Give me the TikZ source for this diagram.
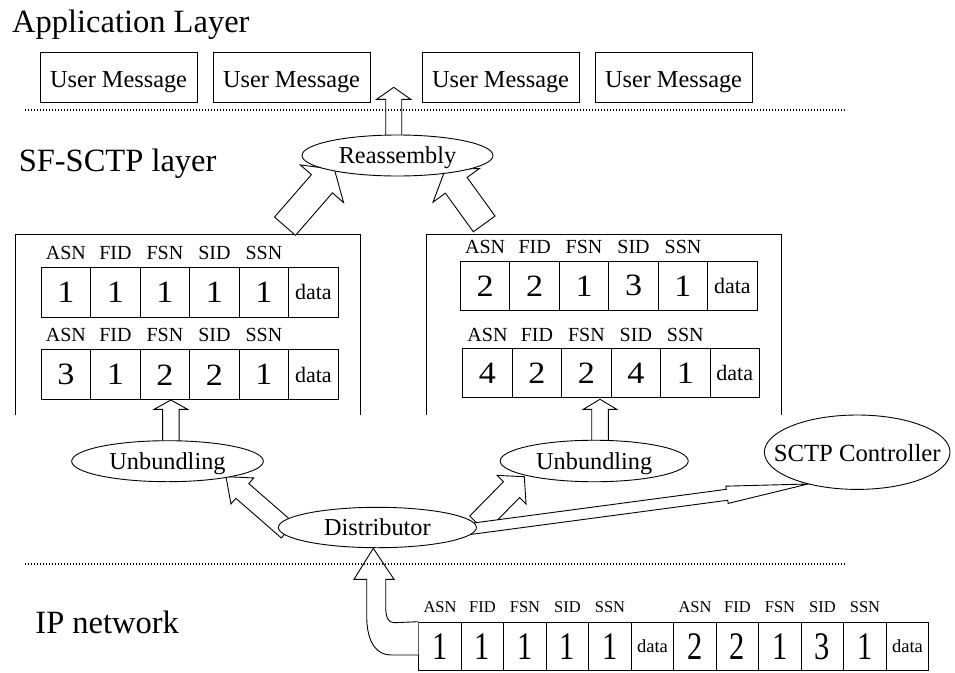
\documentclass[tikz,border=0pt]{standalone}
\usepackage{graphicx}
\usepackage{fontspec}
\setmainfont{Liberation Serif}
\usetikzlibrary{calc,shapes.geometric}
\newcommand\fs[1]{\fontsize{#1}{#1}\selectfont}
\newcommand\dA[1]{\scalebox{1.1}[1]{\fs{31}#1}}
\newcommand\dB[1]{\scalebox{0.78}[1]{\fs{39}#1}}
\newcommand\dtA{\fs{22}data}
\newcommand\dtB{\fs{18.5}data}
% packet row: name, x, y, cell width, cell height, contents
\newcommand\pktrow[6]{%
  \foreach \c [count=\i] in {#6} {%
    \node[cell, minimum width=#4pt, minimum height=#5pt] (#1-\i) at ({#2+(\i-1)*#4},#3) {\c};}}
% headers: name, first index, style, raise
\newcommand\hdrs[4]{%
  \foreach \h [count=\j from #2] in {ASN,FID,FSN,SID,SSN} {%
    \node[#3] (#1-h\j) at ([yshift=#4pt]#1-\j.north) {\h};}}
% block arrow: tail, tip, half shaft, half head, head length
\newcommand\barrow[5]{%
  \coordinate (ba-hb) at ($(#2)!#5pt!(#1)$);
  \draw[blk] ($(#1)!#3pt!90:(#2)$) -- ($(ba-hb)!#3pt!90:(#2)$) -- ($(ba-hb)!#4pt!90:(#2)$)
    -- (#2) -- ($(ba-hb)!#4pt!-90:(#2)$) -- ($(ba-hb)!#3pt!-90:(#2)$) -- ($(#1)!#3pt!-90:(#2)$) -- cycle;}
\tikzset{
  msg/.style={draw, minimum width=157pt, minimum height=49.3pt, inner sep=0pt,
    text height=20pt, text depth=0pt, font=\fs{24.3}},
  oval/.style={draw, ellipse, fill=white, inner sep=0pt},
  ovaltext/.style={font=\fs{24.3}, inner sep=0pt, anchor=base},
  cell/.style={draw, inner sep=0pt, anchor=north west},
  hdrA/.style={font=\fs{20}, inner sep=0pt, anchor=base},
  hdrB/.style={font=\fs{16.5}, inner sep=0pt, anchor=base},
  layer/.style={font=\fs{32.5}, inner sep=0pt, anchor=base west},
  sepline/.style={dash pattern=on 1.2pt off 1.8pt, line width=1.2pt},
  blk/.style={draw, fill=white, line join=miter},
}
\begin{document}
\begin{tikzpicture}[x=1pt, y=-1pt, line width=0.9pt]
\useasboundingbox (0,0) rectangle (955,672);

% layer labels
\node[layer] (appl) at (11.7,32.3) {Application Layer};
\node[layer] (sfl) at (18.3,171.7) {SF-SCTP layer};
\node[layer] (ipl) at (35,633.3) {IP network};

% user messages
\node[msg] (um1) at (118.5,77.4) {User Message};
\node[msg] (um2) at (291.5,77.4) {User Message};
\node[msg] (um3) at (500.5,77.4) {User Message};
\node[msg] (um4) at (673.5,77.4) {User Message};

% panels (open at the bottom)
\draw (15,415) -- (15,234) -- (360.7,234) -- (360.7,415);
\draw (426.7,415) -- (426.7,234) -- (781,234) -- (781,415);

% packets
\pktrow{pA}{40.7}{267.3}{49.5}{49.4}{\dA{1},\dA{1},\dA{1},\dA{1},\dA{1},\dtA}
\hdrs{pA}{1}{hdrA}{8}
\pktrow{pB}{40.7}{349.3}{49.5}{50}{\dA{3},\dA{1},\dA{2},\dA{2},\dA{1},\dtA}
\hdrs{pB}{1}{hdrA}{7.6}
\pktrow{pC}{460}{260.7}{49.45}{49.3}{\dA{2},\dA{2},\dA{1},\dA{3},\dA{1},\dtA}
\hdrs{pC}{1}{hdrA}{7.4}
\pktrow{pD}{462.3}{347.7}{49.45}{49.6}{\dA{4},\dA{2},\dA{2},\dA{4},\dA{1},\dtA}
\hdrs{pD}{1}{hdrA}{6.5}
\pktrow{pE}{418.3}{621.7}{42.5}{48.3}{\dB{1},\dB{1},\dB{1},\dB{1},\dB{1},\dtB,\dB{2},\dB{2},\dB{1},\dB{3},\dB{1},\dtB}
\hdrs{pE}{1}{hdrB}{9}
\hdrs{pE}{7}{hdrB}{9}

% arrow end points
\coordinate (raT) at (393.7,140);   \coordinate (raH) at (393.7,87.3);
\coordinate (rlT) at (285,226.2);   \coordinate (rlH) at (334.4,169.4);
\coordinate (rrT) at (484.2,223.9); \coordinate (rrH) at (445.1,169.9);
\coordinate (ulT) at (170.85,445);  \coordinate (ulH) at (170.85,400);
\coordinate (urT) at (600,445);     \coordinate (urH) at (600,399.3);
\coordinate (dlT) at (287.8,530.6); \coordinate (dlH) at (226,476.7);
\coordinate (drT) at (477.8,523.9); \coordinate (drH) at (524.3,476.7);
\coordinate (dsT) at (470,529);     \coordinate (dsH) at (808,484);
\coordinate (bentTip) at (373.3,548.3);

% block arrows
\barrow{raT}{raH}{8}{17}{12}
\barrow{rlT}{rlH}{13.9}{28.7}{19}
\barrow{rrT}{rrH}{13.4}{28.7}{19}
\barrow{ulT}{ulH}{8.2}{16.7}{9.3}
\barrow{urT}{urH}{8.3}{16.7}{10}
\barrow{dlT}{dlH}{9.8}{17.3}{21.7}
\barrow{drT}{drH}{11.3}{20.4}{18.2}
\barrow{dsT}{dsH}{5.5}{8.7}{81.7}

% bent arrow from the IP packet to the distributor
\draw[blk] (pE-1.west |- 0,655) -- (391,655) .. controls (377,655) and (366.7,643) .. (366.7,616)
  -- (366.7,579.3) -- (354,579.3) -- (bentTip) -- (394,579.3) -- (385.7,579.3)
  -- (385.7,606.7) .. controls (385.7,617) and (388,622.7) .. (394,622.7) -- (pE-1.north west);

% ellipses
\node[oval, minimum width=191pt, minimum height=41pt] (reasm) at (397.5,155.5) {};
\node[oval, minimum width=191.6pt, minimum height=41pt] (unbL) at (167.5,461.2) {};
\node[oval, minimum width=188pt, minimum height=41.5pt] (unbR) at (594.2,461) {};
\node[oval, minimum width=185.6pt, minimum height=74.4pt] (sctp) at (857.2,452.2) {};
\node[oval, minimum width=198pt, minimum height=40.4pt] (dist) at (377.4,527.5) {};
\node[ovaltext] (reasm-t) at ([yshift=-7.8pt]reasm.center) {Reassembly};
\node[ovaltext] (unbL-t) at ([yshift=-8.5pt]unbL.center) {Unbundling};
\node[ovaltext] (unbR-t) at ([yshift=-8.5pt]unbR.center) {Unbundling};
\node[ovaltext, font=\fs{24.7}] (sctp-t) at ([yshift=-9pt]sctp.center) {SCTP Controller};
\node[ovaltext] (dist-t) at ([yshift=-7.5pt]dist.center) {Distributor};

% layer separators
\draw[sepline] (25,110) -- (847,110);
\draw[sepline] (25,564) -- (845,564);
\end{tikzpicture}
\end{document}
